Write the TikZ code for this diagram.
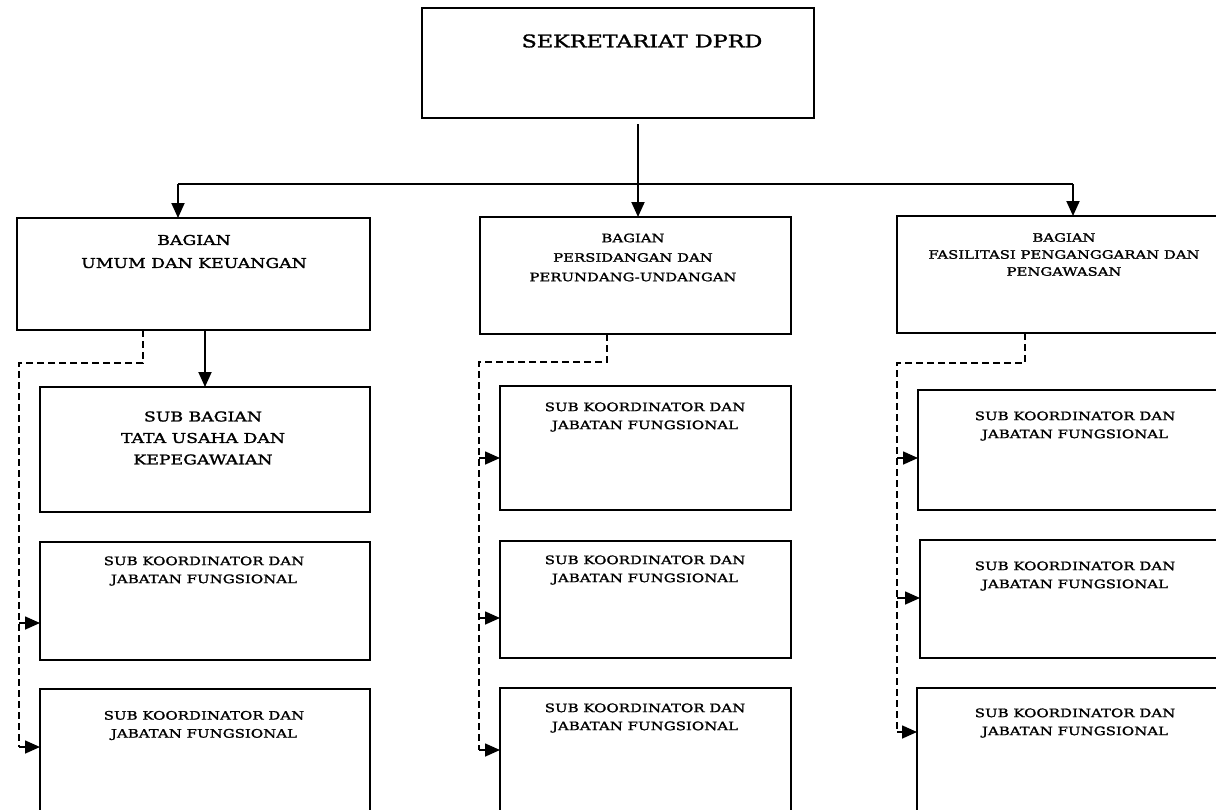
\documentclass[tikz,border=0pt]{standalone}
\usepackage{fontspec}
\setmainfont[FakeStretch=1.28,FakeBold=1.6,UprightFont=*,BoldFont=*]{DejaVu Serif}
\usetikzlibrary{arrows.meta}

\begin{document}
\begin{tikzpicture}[x=1pt,y=-1pt,
  unit/.style={draw=black, line width=1.8pt, rectangle, inner sep=0pt, outer sep=0pt, anchor=north west},
  caption/.style={align=center, inner sep=0pt, text=black},
  ttl/.style={caption, font=\fontsize{17.4}{21}\selectfont\bfseries},
  headl/.style={caption, font=\fontsize{13.5}{23}\selectfont\bfseries},
  headm/.style={caption, font=\fontsize{11.6}{19.5}\selectfont\bfseries},
  headr/.style={caption, font=\fontsize{11.6}{17}\selectfont\bfseries},
  subb/.style={caption, font=\fontsize{13.5}{21.5}\selectfont\bfseries},
  koord/.style={caption, font=\fontsize{11.7}{18}\selectfont\bfseries},
  wire/.style={line width=1.9pt},
  link/.style={line width=1.9pt, -{Triangle[length=15pt,width=13pt]}},
  dlink/.style={line width=1.6pt, dash pattern=on 7pt off 4pt},
  tip/.style={line width=1.6pt, -{Triangle[length=15pt,width=13pt]}},
]
\useasboundingbox (0,0) rectangle (1216,809);
\fill[white] (0,0) rectangle (1216,809);
\clip (0,0) rectangle (1216,809);

% ---- boxes ----
\node[unit, minimum width=392pt, minimum height=110pt] (sek) at (422,8) {};
\node[unit, minimum width=353pt, minimum height=112pt] (bu) at (17,218) {};
\node[unit, minimum width=311pt, minimum height=117pt] (bp) at (480,217) {};
\node[unit, minimum width=340pt, minimum height=117pt] (bf) at (897,216) {};

\node[unit, minimum width=330pt, minimum height=125pt] (sb) at (40,387) {};
\node[unit, minimum width=330pt, minimum height=118pt] (ku1) at (40,542) {};
\node[unit, minimum width=330pt, minimum height=140pt] (ku2) at (40,689) {};

\node[unit, minimum width=291pt, minimum height=124pt] (kp1) at (500,386) {};
\node[unit, minimum width=291pt, minimum height=117pt] (kp2) at (500,541) {};
\node[unit, minimum width=291pt, minimum height=140pt] (kp3) at (500,688) {};

\node[unit, minimum width=320pt, minimum height=120pt] (kf1) at (918,390) {};
\node[unit, minimum width=320pt, minimum height=118pt] (kf2) at (920,540) {};
\node[unit, minimum width=320pt, minimum height=140pt] (kf3) at (917,688) {};

% ---- texts ----
\node[ttl] (sek-t) at (642,41) {SEKRETARIAT DPRD};
\node[headl] (bu-t) at (194,251.5) {BAGIAN\\UMUM DAN KEUANGAN};
\node[headm] (bp-t) at (633,257.5) {BAGIAN\\PERSIDANGAN DAN\\PERUNDANG-UNDANGAN};
\node[headr] (bf-t) at (1064,254.5) {BAGIAN\\FASILITASI PENGANGGARAN DAN\\PENGAWASAN};
\node[subb] (sb-t) at (203,438) {SUB BAGIAN\\TATA USAHA DAN\\KEPEGAWAIAN};

\node[koord] (ku1-t) at (204,571) {SUB KOORDINATOR DAN\\JABATAN FUNGSIONAL};
\node[koord] (ku2-t) at (204,725.5) {SUB KOORDINATOR DAN\\JABATAN FUNGSIONAL};
\node[koord] (kp1-t) at (645,417) {SUB KOORDINATOR DAN\\JABATAN FUNGSIONAL};
\node[koord] (kp2-t) at (645,570) {SUB KOORDINATOR DAN\\JABATAN FUNGSIONAL};
\node[koord] (kp3-t) at (645,718) {SUB KOORDINATOR DAN\\JABATAN FUNGSIONAL};
\node[koord] (kf1-t) at (1075,426) {SUB KOORDINATOR DAN\\JABATAN FUNGSIONAL};
\node[koord] (kf2-t) at (1075,576) {SUB KOORDINATOR DAN\\JABATAN FUNGSIONAL};
\node[koord] (kf3-t) at (1075,723) {SUB KOORDINATOR DAN\\JABATAN FUNGSIONAL};

% ---- solid hierarchy ----
\coordinate (hub) at (638,184);
\coordinate (hl) at (178,184);
\coordinate (hr) at (1073,184);
\coordinate (stem) at (638,124);
\draw[wire] (stem) -- (hub);
\draw[wire] (hl) -- (hr);
\draw[link] (hl) -- (hl |- bu.north);
\draw[link] (hub) -- (hub |- bp.north);
\draw[link] (hr) -- (hr |- bf.north);
\draw[link] (sb.north |- bu.south) -- (sb.north);

% ---- dashed coordination, left ----
\coordinate (dl1) at (143,363);
\coordinate (dl2) at (19,363);
\coordinate (dl3) at (19,747);
\draw[dlink] (bu.south -| dl1) -- (dl1) -- (dl2) -- (dl3);
\coordinate (al1) at (19,623);
\draw[tip] (al1) -- (al1 -| ku1.west);
\draw[tip] (dl3) -- (dl3 -| ku2.west);

% ---- dashed coordination, middle ----
\coordinate (dm1) at (607,362);
\coordinate (dm2) at (479,362);
\coordinate (dm3) at (479,750);
\draw[dlink] (bp.south -| dm1) -- (dm1) -- (dm2) -- (dm3);
\coordinate (am1) at (479,458);
\coordinate (am2) at (479,618);
\draw[tip] (am1) -- (am1 -| kp1.west);
\draw[tip] (am2) -- (am2 -| kp2.west);
\draw[tip] (dm3) -- (dm3 -| kp3.west);

% ---- dashed coordination, right ----
\coordinate (dr1) at (1025,363);
\coordinate (dr2) at (897,363);
\coordinate (dr3) at (897,732);
\draw[dlink] (bf.south -| dr1) -- (dr1) -- (dr2) -- (dr3);
\coordinate (ar1) at (897,458);
\coordinate (ar2) at (897,598);
\draw[tip] (ar1) -- (ar1 -| kf1.west);
\draw[tip] (ar2) -- (ar2 -| kf2.west);
\draw[tip] (dr3) -- (dr3 -| kf3.west);
\end{tikzpicture}
\end{document}
